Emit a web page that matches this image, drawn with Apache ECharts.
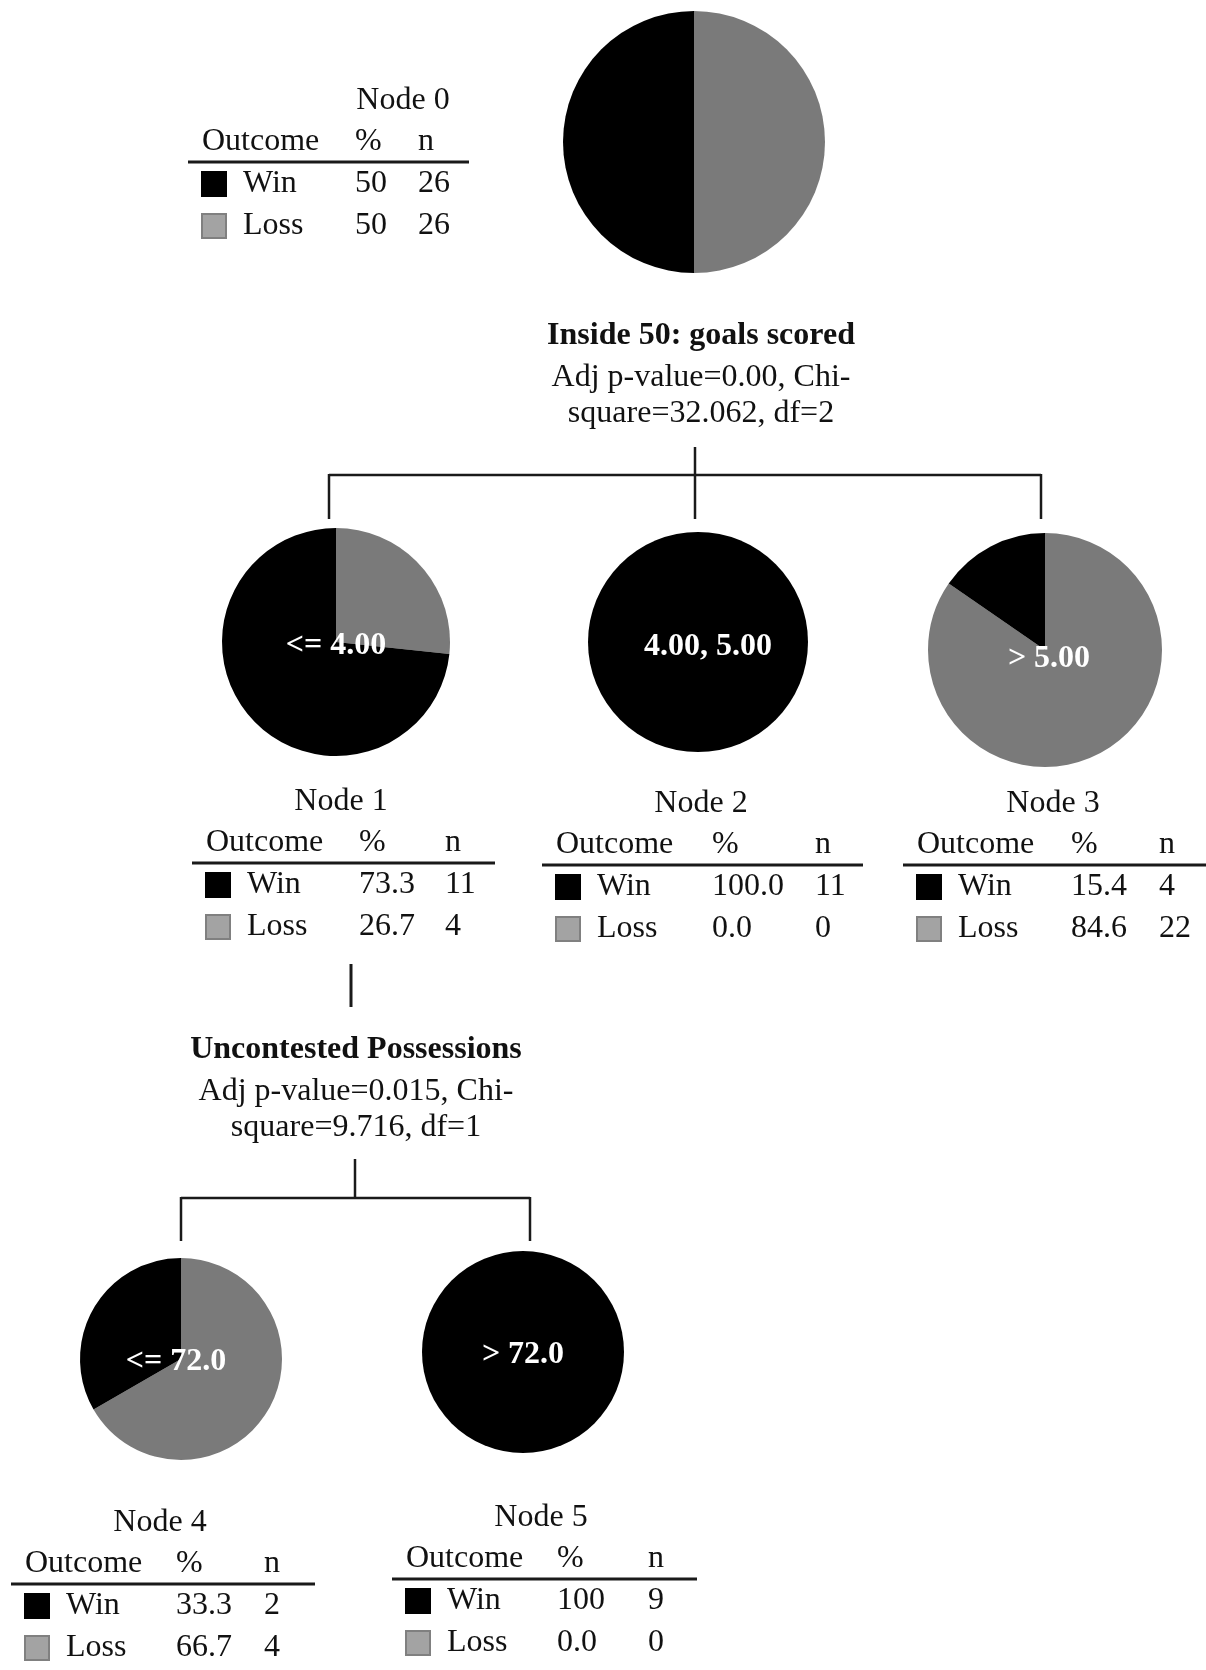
<!DOCTYPE html>
<html>
<head>
<meta charset="utf-8">
<script src="https://cdn.jsdelivr.net/npm/echarts@6/dist/echarts.min.js"></script>
<style>
  html, body { margin: 0; padding: 0; background: #fff; }
  #chart { width: 1206px; height: 1670px; }
</style>
</head>
<body>
<div id="chart"></div>
<script>
// ---------- DATA ----------
const nodeNames = ['Node 0', 'Node 1', 'Node 2', 'Node 3', 'Node 4', 'Node 5'];
const outcomes = ['Win', 'Loss'];
const winPct  = ['50', '73.3', '100.0', '15.4', '33.3', '100'];
const lossPct = ['50', '26.7', '0.0',   '84.6', '66.7', '0.0'];
const winN  = [26, 11, 11, 4, 2, 9];
const lossN = [26, 4, 0, 22, 4, 0];
const splitLabels = ['', '<= 4.00', '4.00, 5.00', '> 5.00', '<= 72.0', '> 72.0'];
const tableHeader = ['Outcome', '%', 'n'];
const split1Text = ['Inside 50: goals scored', 'Adj p-value=0.00, Chi-', 'square=32.062, df=2'];
const split2Text = ['Uncontested Possessions', 'Adj p-value=0.015, Chi-', 'square=9.716, df=1'];

// ---------- LAYOUT ----------
const pieCenters = [[694, 142], [336, 642], [698, 642], [1045, 650], [181, 1359], [523, 1352]];
const pieRadii = [131, 114, 110, 117, 101, 101];
const labelOffsets = [[0, 0], [0, 4], [10, 5], [4, 9], [-5, 3], [0, 3]];
const tblLineY = [162, 863, 865, 865, 1584, 1579];
const tblLeft = [188, 192, 542, 903, 11, 392];
const tblWidth = [281, 303, 321, 303, 304, 305];
const tblPctOff = [167, 167, 170, 168, 165, 165];
const tblNOff = [230, 253, 273, 256, 253, 256];
const tblTitleX = [403, 341, 701, 1053, 160, 541];

const WIN_COLOR = '#000000';
const LOSS_COLOR = '#7a7a7a';
const LEGEND_GRAY = '#a3a3a3';
const FONT = '"Liberation Serif", "Times New Roman", serif';
const FS = 32;

function txt(text, x, y, align, bold, color, size) {
  return {
    type: 'text', silent: true,
    style: {
      text: text, x: x, y: y,
      align: align, textAlign: align,
      verticalAlign: 'middle', textVerticalAlign: 'middle',
      font: (bold ? 'bold ' : 'normal ') + (size || FS) + 'px ' + FONT,
      fill: color || '#111'
    }
  };
}
function line(x1, y1, x2, y2, w) {
  return { type: 'line', silent: true, shape: { x1: x1, y1: y1, x2: x2, y2: y2 },
           style: { stroke: '#1a1a1a', lineWidth: w || 2.5 } };
}

const graphics = [];

// tables
nodeNames.forEach(function (name, i) {
  const L = tblLeft[i], Y = tblLineY[i];
  const xO = L + 14, xW = L + 55, xP = L + tblPctOff[i], xN = L + tblNOff[i];
  graphics.push(txt(name, tblTitleX[i], Y - 61, 'center'));
  graphics.push(txt(tableHeader[0], xO, Y - 20, 'left'));
  graphics.push(txt(tableHeader[1], xP, Y - 20, 'left'));
  graphics.push(txt(tableHeader[2], xN, Y - 20, 'left'));
  graphics.push(line(L, Y, L + tblWidth[i], Y, 3));
  const rows = [
    [outcomes[0], winPct[i], winN[i], WIN_COLOR, WIN_COLOR, Y + 22],
    [outcomes[1], lossPct[i], lossN[i], LEGEND_GRAY, '#808080', Y + 64]
  ];
  rows.forEach(function (r) {
    graphics.push({ type: 'rect', silent: true,
      shape: { x: xO, y: r[5] - 12, width: 24, height: 24 },
      style: { fill: r[3], stroke: r[4], lineWidth: 2 } });
    graphics.push(txt(r[0], xW, r[5], 'left'));
    graphics.push(txt(r[1], xP, r[5], 'left'));
    graphics.push(txt(String(r[2]), xN, r[5], 'left'));
  });
});

// split descriptions
[[split1Text, 701, [336, 378, 414]], [split2Text, 356, [1050, 1092, 1128]]].forEach(function (s) {
  s[0].forEach(function (t, k) {
    graphics.push(txt(t, s[1], s[2][k], 'center', k === 0));
  });
});

// connectors
graphics.push(line(695, 447, 695, 519));
graphics.push(line(329, 475, 1041, 475));
graphics.push(line(329, 474, 329, 519));
graphics.push(line(1041, 474, 1041, 519));
graphics.push(line(351, 964, 351, 1007, 3));
graphics.push(line(355, 1159, 355, 1198));
graphics.push(line(181, 1198, 530, 1198));
graphics.push(line(181, 1197, 181, 1241));
graphics.push(line(530, 1197, 530, 1241));

// pies (Loss first, clockwise from 12 o'clock)
const series = nodeNames.map(function (name, i) {
  return {
    type: 'pie',
    name: name,
    center: pieCenters[i],
    radius: [0, pieRadii[i]],
    startAngle: 90,
    clockwise: true,
    minAngle: 0,
    avoidLabelOverlap: false,
    stillShowZeroSum: true,
    silent: true,
    emphasis: { disabled: true },
    labelLine: { show: false },
    label: { show: false },
    itemStyle: { borderWidth: 0 },
    data: [
      { name: outcomes[1], value: lossN[i], itemStyle: { color: LOSS_COLOR } },
      { name: outcomes[0], value: winN[i], itemStyle: { color: WIN_COLOR },
        label: {
          show: splitLabels[i] !== '',
          position: 'center',
          formatter: splitLabels[i],
          color: '#ffffff',
          fontFamily: FONT,
          fontWeight: 'bold',
          fontSize: 32,
          offset: labelOffsets[i]
        } }
    ]
  };
});

const chart = echarts.init(document.getElementById('chart'), null, { renderer: 'canvas' });
chart.setOption({
  backgroundColor: '#ffffff',
  animation: false,
  series: series,
  graphic: { elements: graphics }
});
</script>
</body>
</html>
